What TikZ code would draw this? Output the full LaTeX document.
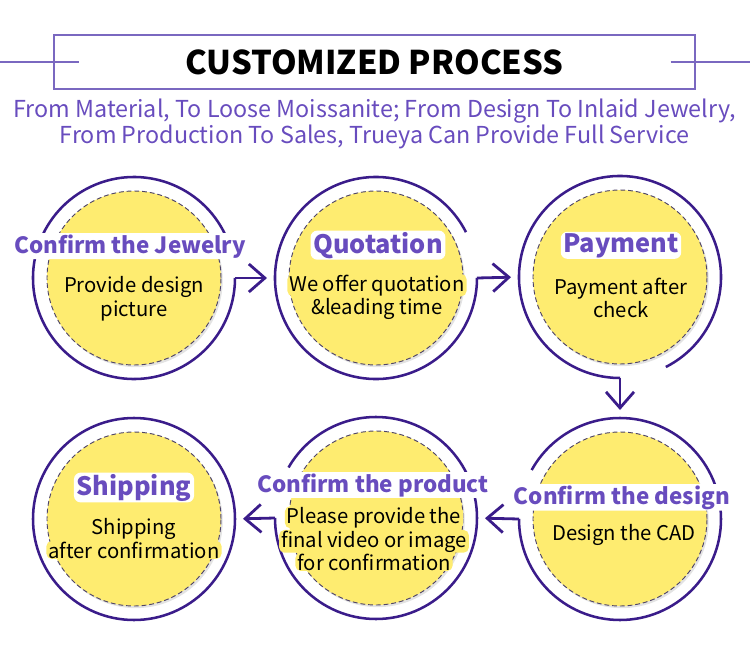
\documentclass[tikz,border=0pt]{standalone}
\usepackage{fontspec}
\setmainfont{Noto Sans CJK SC}
\usetikzlibrary{arrows.meta, positioning, shadows}
\definecolor{ringpurple}{RGB}{58, 28, 138}
\definecolor{titlepurple}{RGB}{104, 76, 190}
\definecolor{framepurple}{RGB}{122, 104, 192}
\definecolor{discyellow}{RGB}{254, 236, 112}
\definecolor{dashgray}{RGB}{78, 68, 104}

\begin{document}
\begin{tikzpicture}[x=0.75pt, y=0.75pt,
  frame/.style={draw=framepurple, line width=1.1pt},
  ring/.style={draw=ringpurple, line width=1.9pt},
  flow/.style={draw=ringpurple, line width=2.1pt, shorten >=6pt,
    -{Straight Barb[length=12pt, width=21pt, line width=2.1pt]}},
  hoop/.style={circle, minimum size=151.5pt, inner sep=0pt, outer sep=0pt},
  disc/.style={circle, minimum size=130.5pt, inner sep=0pt, fill=discyellow,
    draw=dashgray, line width=0.7pt, dash pattern=on 3.6pt off 2.2pt,
    drop shadow={opacity=0.22, shadow xshift=1.3pt, shadow yshift=-1.6pt}},
  label/.style={anchor=base, fill=white, rounded corners=5pt, text=titlepurple,
    inner xsep=2pt, inner ysep=1pt},
  bigtitle/.style={label, font=\fontsize{19}{21}\selectfont\bfseries},
  longtitle/.style={label, font=\fontsize{16.8}{19}\selectfont\bfseries},
  body/.style={anchor=base, fill=discyellow, rounded corners=4pt,
    inner xsep=1.5pt, inner ysep=0.5pt, font=\fontsize{15.2}{18}\selectfont}
]
  \useasboundingbox (0,0) rectangle (750,-653);

  % header
  \node[frame, minimum width=480.75pt, minimum height=40.5pt,
    font=\fontsize{24.5}{27}\selectfont\bfseries] (head) at (374.5,-62) {CUSTOMIZED PROCESS};
  \draw[frame] (head.west) +(-54,0) -- +(26,0);
  \draw[frame] (head.east) +(-25,0) -- +(55,0);
  \node[text=titlepurple, align=center, font=\fontsize{17.5}{19.5}\selectfont,
    below=3pt of head] (intro)
    {From Material, To Loose Moissanite; From Design To Inlaid Jewelry,\\
     From Production To Sales, Trueya Can Provide Full Service};

  % steps
  \node[hoop] (o1) at (134,-278) {};
  \node[hoop] (o2) at (376,-278) {};
  \node[hoop] (o3) at (620,-277) {};
  \node[hoop] (o4) at (620,-519) {};
  \node[hoop] (o5) at (376,-518) {};
  \node[hoop, ring] (o6) at (134,-519) {};

  \draw[ring] (o1.25) arc[start angle=25, end angle=360, radius=75.75pt];
  \draw[ring] (o2.27) arc[start angle=27, end angle=360, radius=75.75pt];
  \draw[ring] (o3.297) arc[start angle=297, end angle=630, radius=75.75pt];
  \draw[ring] (o4.180) arc[start angle=180, end angle=511, radius=75.75pt];
  \draw[ring] (o5.180) arc[start angle=180, end angle=510, radius=75.75pt];

  \draw[flow] (o1.east) -- (o2.west);
  \draw[flow] (o2.east) -- (o3.west);
  \draw[flow] (o3.south) -- (o4.north);
  \draw[flow] (o4.west) -- (o5.east);
  \draw[flow] (o5.west) -- (o6.east);

  \node[disc] (d1) at (o1) {};
  \node[disc] (d2) at (o2) {};
  \node[disc] (d3) at (o3) {};
  \node[disc] (d4) at (o4) {};
  \node[disc] (d5) at (o5) {};
  \node[disc] (d6) at (o6) {};

  \node[longtitle] (t1) at (130,-253) {Confirm the Jewelry};
  \node[bigtitle] (t2) at (378,-253) {Quotation};
  \node[bigtitle] (t3) at (621,-252) {Payment};
  \node[longtitle] (t4) at (622,-504) {Confirm the design};
  \node[longtitle] (t5) at (373,-492) {Confirm the product};
  \node[bigtitle] (t6) at (134,-495) {Shipping};

  \node[body] (b1a) at (134,-292) {Provide design};
  \node[body] (b1b) at (134,-316) {picture};
  \node[body] (b2a) at (377,-291) {We offer quotation};
  \node[body] (b2b) at (377,-314) {\&leading time};
  \node[body] (b3a) at (621,-294) {Payment after};
  \node[body] (b3b) at (621,-317) {check};
  \node[body] (b4a) at (624,-540) {Design the CAD};
  \node[body] (b5a) at (374,-523) {Please provide the};
  \node[body] (b5b) at (374,-547) {final video or image};
  \node[body] (b5c) at (374,-570) {for confirmation};
  \node[body] (b6a) at (134,-534) {Shipping};
  \node[body] (b6b) at (134,-558) {after confirmation};
\end{tikzpicture}
\end{document}
